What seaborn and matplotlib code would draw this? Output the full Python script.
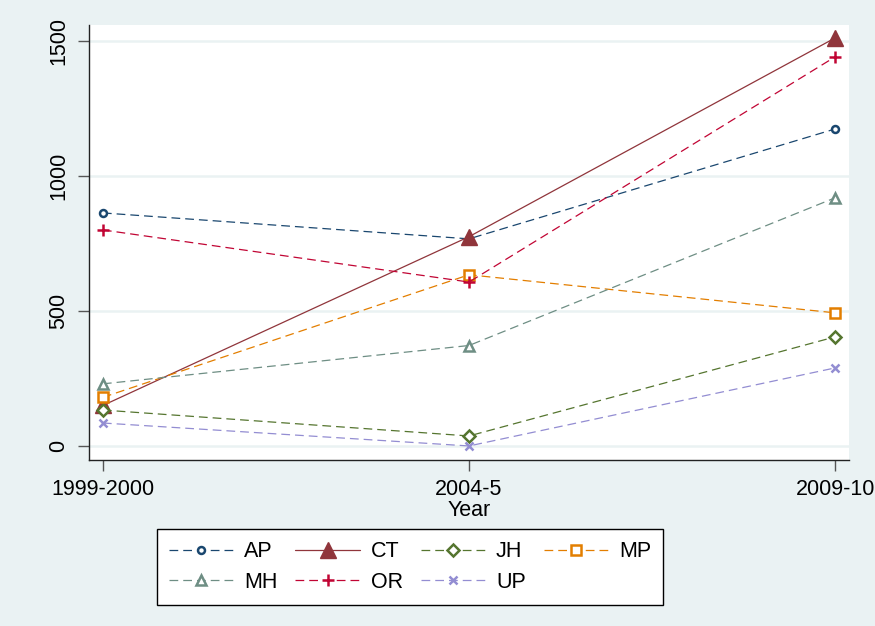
import matplotlib
matplotlib.use('Agg')
import matplotlib.pyplot as plt
import numpy as np
import pandas as pd
import seaborn as sns

# data
years = ['1999-2000', '2004-5', '2009-10']
states = ['AP', 'CT', 'JH', 'MP', 'MH', 'OR', 'UP']
ap = [863, 767, 1174]
ct = [150, 775, 1511]
jh = [133, 37, 404]
mp = [180, 634, 493]
mh = [230, 372, 919]
orr = [800, 607, 1441]
up = [85, 0, 289]
values = [ap, ct, jh, mp, mh, orr, up]

# Stata s2color look
colors = ['#1a476f', '#90353b', '#55752f', '#e37e00', '#6e8e84', '#c10534', '#938dd2']
markers = ['o', '^', 'D', 's', '^', '+', 'x']
msizes = [5, 11, 6.5, 6.5, 6.5, 8, 6]
bg = '#eaf2f3'

df = pd.DataFrame({
    'x': np.tile(np.arange(len(years)), len(states)),
    'value': np.concatenate(values),
    'state': np.repeat(states, len(years)),
})

sns.set_style('white')
plt.rcParams['font.family'] = ['Liberation Sans', 'DejaVu Sans']
plt.rcParams['text.color'] = 'black'
plt.rcParams['xtick.color'] = 'black'
plt.rcParams['ytick.color'] = 'black'
plt.rcParams['axes.labelcolor'] = 'black'

fig = plt.figure(figsize=(8.75, 6.26), dpi=100, facecolor=bg)
ax = fig.add_axes([89/875, 1 - 460/626, 760/875, 435/626])
ax.set_facecolor('white')

for i, s in enumerate(states):
    sub = df[df['state'] == s]
    filled = (s == 'CT')
    sns.lineplot(data=sub, x='x', y='value', ax=ax, color=colors[i],
                 marker=markers[i], markersize=msizes[i],
                 markerfacecolor=colors[i] if filled else 'white',
                 markeredgecolor=colors[i], markeredgewidth=1 if filled else 1.8,
                 linewidth=0.9, label=s,
                 linestyle='-' if filled else (0, (7, 4)))

ax.set_xlim(-0.038, 2.038)
ax.set_ylim(-52, 1559)
ax.set_xticks(range(len(years)))
ax.set_xticklabels(years, fontsize=15.5)
ax.set_yticks([0, 500, 1000, 1500])
ax.set_yticklabels(['0', '500', '1000', '1500'], fontsize=15.5, rotation=90, va='center')
ax.set_xlabel('Year', fontsize=15.5, labelpad=0)
ax.set_ylabel('')
ax.grid(axis='y', color=bg, linewidth=1.8)
ax.grid(axis='x', visible=False)
ax.tick_params(axis='both', direction='out', length=8, width=1, color='#555555', pad=6, left=True, bottom=True)
for side in ['top', 'right']:
    ax.spines[side].set_visible(False)
for side in ['left', 'bottom']:
    ax.spines[side].set_color('#222222')
    ax.spines[side].set_linewidth(1)

# row-wise legend order: AP CT JH MP / MH OR UP
handles, labels = ax.get_legend_handles_labels()
order = [0, 4, 1, 5, 2, 6, 3]
ax.legend([handles[k] for k in order], [labels[k] for k in order],
          loc='upper left', ncol=4, mode='expand',
          bbox_to_anchor=(157/875, 1 - 530/626, 506/875, 0.001),
          bbox_transform=fig.transFigure, borderaxespad=0,
          fontsize=15.5, frameon=True, fancybox=False, edgecolor='black',
          facecolor='white', framealpha=1,
          handlelength=3.0, handletextpad=0.5, columnspacing=1.0,
          borderpad=0.55, labelspacing=0.45)
leg = ax.get_legend()
leg.get_frame().set_linewidth(1)

fig.savefig('out.png', dpi=100, facecolor=bg)
